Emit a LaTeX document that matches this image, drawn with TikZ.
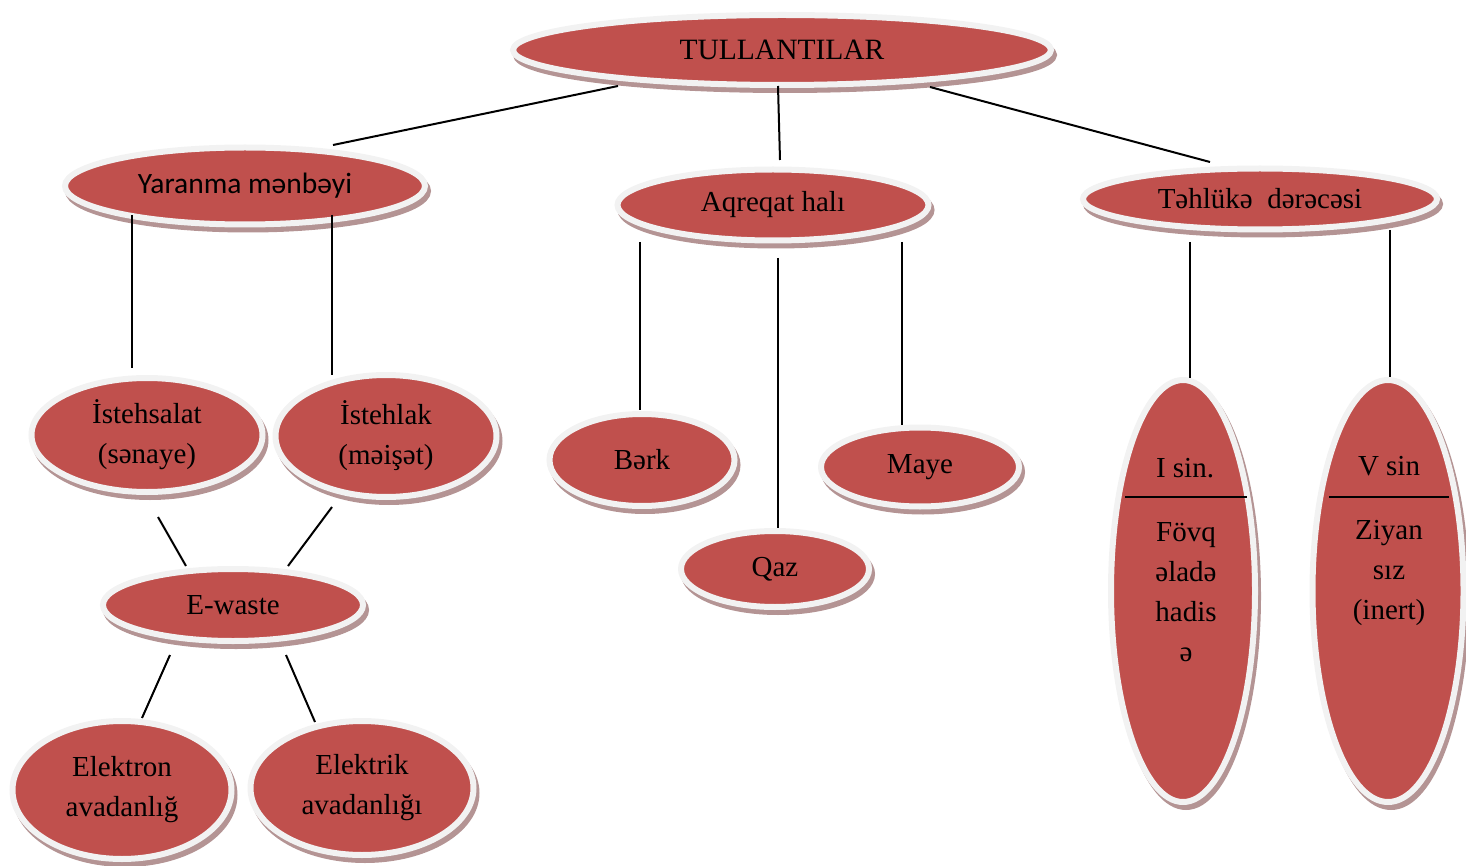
\documentclass[tikz,border=0pt]{standalone}
\usepackage{fontspec}
\setmainfont{Liberation Serif}
\newfontfamily\calibrifont{Carlito}
\usetikzlibrary{shapes.geometric}
\definecolor{bubblered}{HTML}{C0504D}
\definecolor{ringgray}{HTML}{F2F2F2}
\definecolor{shadowcol}{HTML}{B49494}
\tikzset{
  bubble/.style={ellipse, inner sep=0pt, fill=bubblered, draw=ringgray,
    line width=6pt, align=center, text=black,
    font=\fontsize{29}{40}\selectfont,
    preaction={fill=shadowcol, draw=shadowcol, line width=6pt,
      transform canvas={shift={(3pt,-5pt)}}}},
  txt/.style={inner sep=0pt, align=center, text=black,
    font=\fontsize{29}{40}\selectfont},
  link/.style={draw=black, line width=2pt},
  divider/.style={draw=black, line width=1.6pt}
}
\begin{document}
\begin{tikzpicture}[x=1pt, y=-1pt]
\useasboundingbox (0,0) rectangle (1466,866);

% root and first level
\node[bubble, minimum width=538pt, minimum height=70pt,
      font=\fontsize{29.5}{34}\selectfont] (root) at (782,50) {TULLANTILAR};
\node[bubble, minimum width=360pt, minimum height=77pt,
      font=\calibrifont\fontsize{29.5}{34}\selectfont] (yar) at (245,186) {Yaranma mənbəyi};
\node[bubble, minimum width=311pt, minimum height=71pt] (aqr) at (773,205) {Aqreqat halı};
\node[bubble, minimum width=354pt, minimum height=61pt] (teh) at (1260,199) {Təhlükə\ \ dərəcəsi};

% second level
\node[bubble, minimum width=231pt, minimum height=114pt] (ist1) at (147,435) {İstehsalat\\(sənaye)};
\node[bubble, minimum width=221pt, minimum height=122pt] (ist2) at (386,436) {İstehlak\\(məişət)};
\node[bubble, minimum width=185pt, minimum height=92pt] (berk) at (642,460) {Bərk};
\node[bubble, minimum width=198pt, minimum height=79pt] (maye) at (920,467) {Maye};
\node[bubble, minimum width=188pt, minimum height=76pt] (qaz) at (775,569) {Qaz};
\node[bubble, minimum width=144pt, minimum height=422pt] (isin) at (1183,591) {};
\node[bubble, minimum width=151pt, minimum height=422pt] (vsin) at (1388,591) {};

% e-waste branch
\node[bubble, minimum width=260pt, minimum height=72pt] (ew) at (233,605) {E-waste};
\node[bubble, minimum width=219pt, minimum height=138pt] (elon) at (122,790) {Elektron\\avadanlığ};
\node[bubble, minimum width=223pt, minimum height=134pt] (elik) at (362,788) {Elektrik\\avadanlığı};

% texts of the tall hazard-class ellipses
\node[txt] (isintop) at (1185,468) {I sin.};
\node[txt] (isinbody) at (1186,592) {Fövq\\əladə\\hadis\\ə};
\node[txt] (vsintop) at (1389,466) {V sin};
\node[txt] (vsinbody) at (1389,573) {Ziyan\\sız\\(inert)};
\draw[divider] ([shift={(-58,-94)}]isin.center) -- ([shift={(64,-94)}]isin.center);
\draw[divider] ([shift={(-59,-94)}]vsin.center) -- ([shift={(61,-94)}]vsin.center);

% connectors
\draw[link] ([shift={(-164,36)}]root.center) -- ([shift={(88,-41)}]yar.center);
\draw[link] ([shift={(-4,36)}]root.center) -- ([shift={(7,-45)}]aqr.center);
\draw[link] ([shift={(148,37)}]root.center) -- ([shift={(-50,-37)}]teh.center);
\draw[link] ([shift={(-113,29)}]yar.center) -- ([shift={(-15,-67)}]ist1.center);
\draw[link] ([shift={(87,29)}]yar.center) -- ([shift={(-54,-61)}]ist2.center);
\draw[link] ([shift={(-133,37)}]aqr.center) -- ([shift={(-2,-50)}]berk.center);
\draw[link] ([shift={(5,53)}]aqr.center) -- ([shift={(3,-41)}]qaz.center);
\draw[link] ([shift={(129,37)}]aqr.center) -- ([shift={(-18,-42)}]maye.center);
\draw[link] ([shift={(-70,43)}]teh.center) -- ([shift={(7,-213)}]isin.center);
\draw[link] ([shift={(130,31)}]teh.center) -- ([shift={(2,-214)}]vsin.center);
\draw[link] ([shift={(11,82)}]ist1.center) -- ([shift={(-47,-39)}]ew.center);
\draw[link] ([shift={(-54,71)}]ist2.center) -- ([shift={(55,-39)}]ew.center);
\draw[link] ([shift={(-63,50)}]ew.center) -- ([shift={(20,-72)}]elon.center);
\draw[link] ([shift={(53,50)}]ew.center) -- ([shift={(-47,-66)}]elik.center);
\end{tikzpicture}
\end{document}
